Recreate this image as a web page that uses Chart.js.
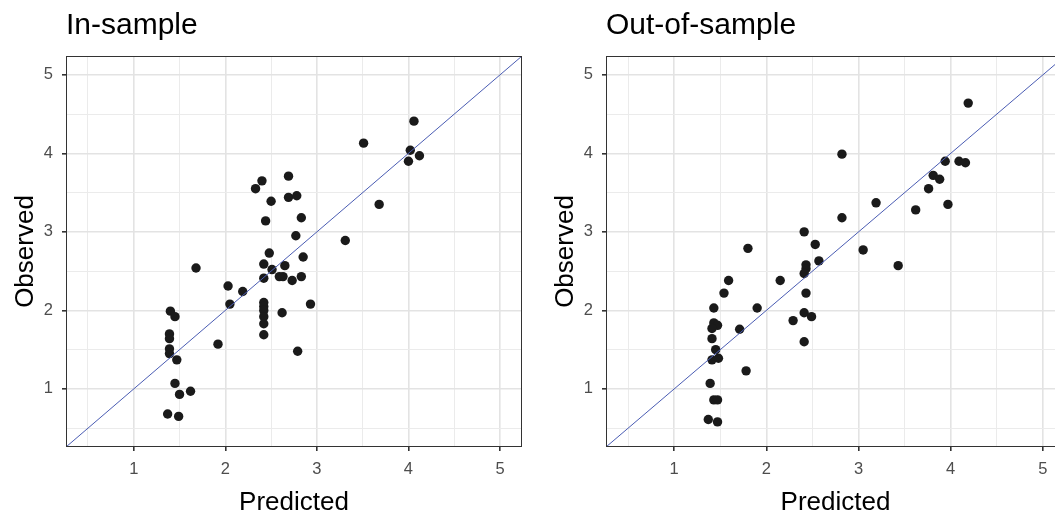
<!DOCTYPE html>
<html>
<head>
<meta charset="utf-8">
<script src="https://cdn.jsdelivr.net/npm/chart.js@4/dist/chart.umd.min.js"></script>
<style>
  html, body { margin: 0; padding: 0; background: #fff; overflow: hidden; }
  #wrap { position: relative; width: 1055px; height: 513px; overflow: hidden; }
  canvas { position: absolute; top: 0; }
</style>
</head>
<body>
<div id="wrap">
  <canvas id="inChart" width="527" height="520" style="left:0;"></canvas>
  <canvas id="outChart" width="530" height="520" style="left:540px;"></canvas>
</div>
<script>
// axis limits shared by both panels
const axisMin = 0.26;
const axisMax = 5.24;
const tickValues = [0.5, 1, 1.5, 2, 2.5, 3, 3.5, 4, 4.5, 5];

// In-sample: predicted vs observed
const inPred = [4.06, 3.51, 4.02, 4.12, 4.00, 2.69, 2.40, 2.33, 2.69, 2.78, 2.50, 3.68, 2.83, 2.44,
  2.77, 3.31, 2.48, 2.85, 2.42, 2.65, 2.51, 1.68, 2.59, 2.63, 2.42, 2.73, 2.83, 2.03, 2.19, 2.05,
  2.93, 2.42, 2.42, 2.42, 2.62, 2.42, 2.42, 2.42, 1.40, 1.45, 1.92, 2.79, 1.39, 1.39, 1.39, 1.39,
  1.47, 1.45, 1.62, 1.50, 1.37, 1.49];
const inObs = [4.41, 4.13, 4.04, 3.97, 3.90, 3.71, 3.65, 3.55, 3.44, 3.46, 3.39, 3.35, 3.18, 3.14,
  2.95, 2.89, 2.73, 2.68, 2.59, 2.57, 2.52, 2.54, 2.43, 2.43, 2.41, 2.38, 2.43, 2.31, 2.24, 2.08,
  2.08, 2.10, 2.05, 2.00, 1.97, 1.92, 1.83, 1.69, 1.99, 1.92, 1.57, 1.48, 1.70, 1.64, 1.51, 1.45,
  1.37, 1.07, 0.97, 0.93, 0.68, 0.65];

// Out-of-sample: predicted vs observed
const outPred = [4.19, 2.82, 3.94, 4.09, 4.16, 3.81, 3.88, 3.76, 3.19, 3.97, 3.62, 2.82, 2.41, 2.53,
  1.80, 3.05, 2.57, 2.43, 2.43, 2.41, 3.43, 1.59, 2.15, 1.54, 2.43, 1.43, 1.90, 2.41, 2.49, 2.29,
  1.43, 1.47, 1.41, 1.71, 1.41, 2.41, 1.45, 1.41, 1.48, 1.78, 1.39, 1.43, 1.47, 1.37, 1.47];
const outObs = [4.64, 3.99, 3.90, 3.90, 3.88, 3.72, 3.67, 3.55, 3.37, 3.35, 3.28, 3.18, 3.00, 2.84,
  2.79, 2.77, 2.63, 2.58, 2.53, 2.47, 2.57, 2.38, 2.38, 2.22, 2.22, 2.03, 2.03, 1.97, 1.92, 1.87,
  1.84, 1.81, 1.77, 1.76, 1.64, 1.60, 1.50, 1.37, 1.39, 1.23, 1.07, 0.86, 0.86, 0.61, 0.58];

const fontFamily = '"Liberation Sans", Arial, sans-serif';

// panel title + full border, like ggplot theme_bw
const panelDeco = {
  id: 'panelDeco',
  afterDraw(chart, args, opts) {
    const ctx = chart.ctx;
    const a = chart.chartArea;
    ctx.save();
    ctx.strokeStyle = '#333333';
    ctx.lineWidth = 1;
    ctx.strokeRect(a.left + 0.5, a.top + 0.5, a.right - a.left - 1, a.bottom - a.top - 1);
    ctx.fillStyle = '#000000';
    ctx.font = '30px ' + fontFamily;
    ctx.textBaseline = 'alphabetic';
    ctx.textAlign = 'left';
    ctx.fillText(opts.text, a.left, 34);
    ctx.restore();
  }
};

function isMajor(ctx) {
  return ctx.tick && Number.isInteger(ctx.tick.value);
}

function makeAxis(axisTitle, isX) {
  return {
    type: 'linear',
    min: axisMin,
    max: axisMax,
    afterBuildTicks: scale => { scale.ticks = tickValues.map(v => ({ value: v })); },
    afterFit: scale => {
      if (isX) scale.height = 73; else scale.width = 66;
    },
    grid: {
      color: ctx => isMajor(ctx) ? '#e3e3e3' : '#ebebeb',
      lineWidth: ctx => isMajor(ctx) ? 1.6 : 1,
      tickColor: ctx => isMajor(ctx) ? '#333333' : 'rgba(0,0,0,0)',
      tickLength: 4,
      drawTicks: true
    },
    border: { display: false },
    ticks: {
      autoSkip: false,
      maxRotation: 0,
      padding: 9,
      color: '#4d4d4d',
      font: { family: fontFamily, size: 16.5 },
      callback: v => Number.isInteger(v) ? String(v) : ''
    },
    title: {
      display: true,
      text: axisTitle,
      color: '#000000',
      font: { family: fontFamily, size: 26 },
      padding: isX ? { top: 0, bottom: 2 } : { top: 10, bottom: 0 }
    }
  };
}

function makeChart(id, title, xs, ys) {
  const points = xs.map((x, i) => ({ x: x, y: ys[i] }));
  const ctx = document.getElementById(id).getContext('2d');
  return new Chart(ctx, {
    type: 'scatter',
    data: {
      datasets: [
        {
          type: 'line',
          data: [{ x: axisMin, y: axisMin }, { x: axisMax, y: axisMax }],
          borderColor: '#4a5cb3',
          borderWidth: 1,
          pointRadius: 0,
          fill: false
        },
        {
          data: points,
          backgroundColor: '#1a1a1a',
          borderColor: '#1a1a1a',
          pointRadius: 4.7,
          pointBorderWidth: 0
        }
      ]
    },
    options: {
      responsive: false,
      animation: false,
      layout: { padding: { left: 0, top: 56, right: 5, bottom: 0 } },
      scales: {
        x: makeAxis('Predicted', true),
        y: makeAxis('Observed', false)
      },
      plugins: {
        legend: { display: false },
        tooltip: { enabled: false },
        panelDeco: { text: title }
      }
    },
    plugins: [panelDeco]
  });
}

makeChart('inChart', 'In-sample', inPred, inObs);
makeChart('outChart', 'Out-of-sample', outPred, outObs);
</script>
</body>
</html>
